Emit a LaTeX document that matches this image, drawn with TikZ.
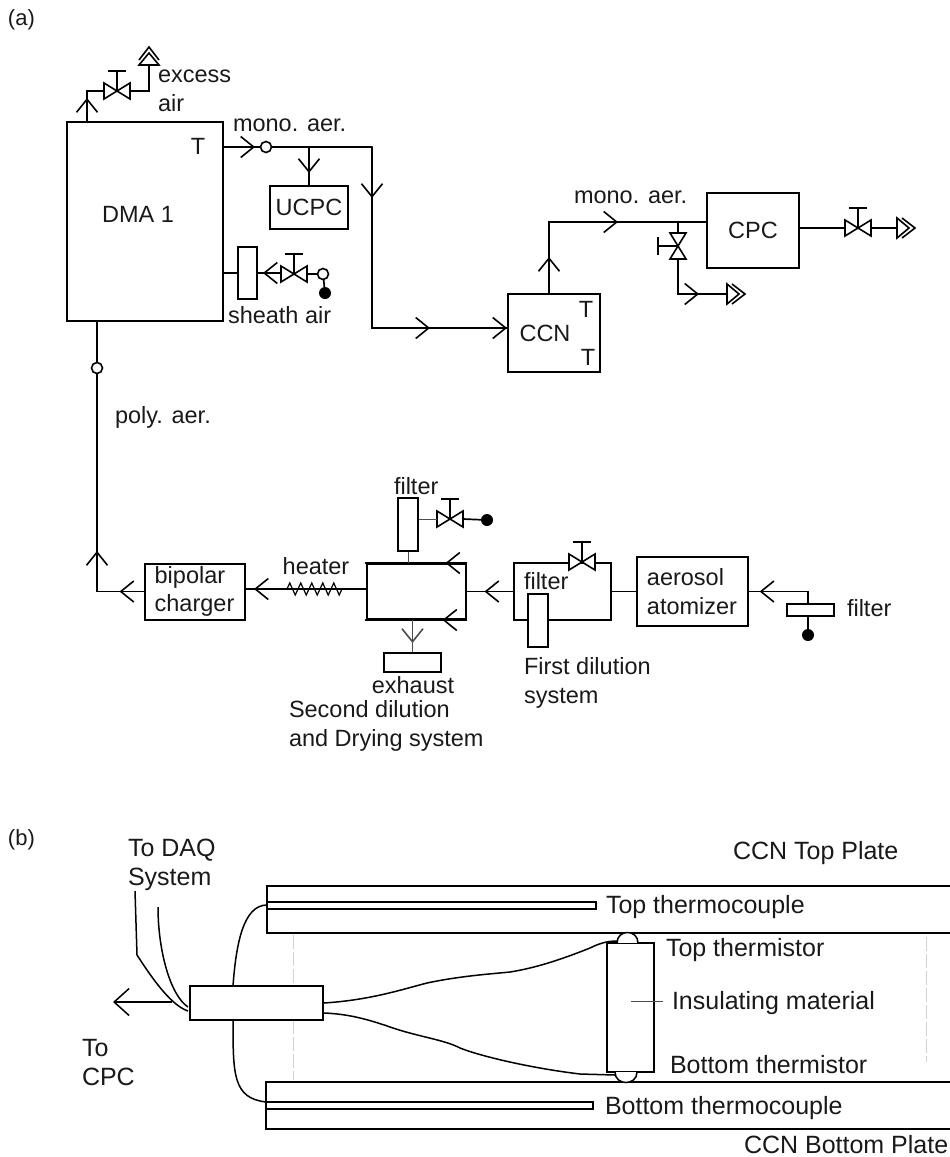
\documentclass[tikz,border=0pt]{standalone}
\usepackage{fontspec}
\setmainfont{Liberation Sans}
\usetikzlibrary{arrows.meta,positioning,decorations.markings,decorations.pathmorphing}

\begin{document}
\begin{tikzpicture}[
      x=1pt, y=-1pt,
      txta/.style={font=\fontsize{23.5}{28.5}\selectfont},
      tag/.style={txta, inner sep=0pt, outer sep=0pt, text=black!90, anchor=base west, align=left},
      ctag/.style={tag, anchor=base, align=center},
      tagb/.style={tag, font=\fontsize{25}{29}\selectfont},
      box/.style={draw, line width=2pt, inner sep=0pt, txta, text=black!90, align=left},
      filt/.style={draw, line width=1.7pt, fill=white, inner sep=0pt},
      flow/.style={line width=1.7pt, line cap=round},
      thin line/.style={line width=0.8pt, black!70},
      wire/.style={line width=1.5pt},
      chev/.style={postaction={decorate, decoration={markings,
          mark=at position #1 with {\arrow[line width=1.6pt]{Straight Barb[length=13pt,width=21pt]}}}}},
      ring/.style={draw, line width=1.6pt, circle, fill=white, inner sep=0pt, minimum size=11pt},
      dot/.style={circle, fill=black, inner sep=0pt, minimum size=12pt},
      valve/.pic={
        \draw[line width=1.6pt, fill=white] (-13,-8) -- (-13,8) -- (0,0) -- cycle;
        \draw[line width=1.6pt, fill=white] (13,-8) -- (13,8) -- (0,0) -- cycle;
        \draw[line width=1.6pt] (0,0) -- (0,-20) (-9,-20) -- (9,-20);
        \coordinate (-w) at (-13,0);
        \coordinate (-e) at (13,0);
      },
      vent/.pic={
        \draw[line width=1.6pt, fill=white] (0,-10) -- (0,10) -- (12,0) -- cycle;
        \draw[line width=1.6pt] (5,-10) -- (18,0) -- (5,10);
        \coordinate (-w) at (0,0);
      },
    ]
    \useasboundingbox (0,0) rectangle (950,1157);

    % panel (a)
    \node[tag, font=\fontsize{22}{26}\selectfont] (laba) at (8,25) {(a)};

    \node[box, minimum width=156pt, minimum height=199pt] (dma) at (145,221.5) {};
    \node[ctag] (dmatxt) at (138,222) {DMA 1};
    \node[ctag] (dmat) at (198,154) {T};

    % excess air line
    \coordinate (dmaup) at (87,122);
    \pic (vex) at (117,91) {valve};
    \pic[rotate=90] (ventx) at (149,65) {vent};
    \draw[flow, chev=24pt] (dmaup) |- (vex-w);
    \draw[flow] (vex-e) -| (ventx-w);
    \node[tag] (excess) at (158,111) {excess\\air};

    % mono. aer. to UCPC and CCN
    \node[ring] (mono) at (266,147) {};
    \node[tag] (monotxt) at (233,131) {mono. aer.};
    \node[box, minimum width=78pt, minimum height=43pt] (ucpc) at (309,207.5) {UCPC};
    \node[box, minimum width=92pt, minimum height=78pt] (ccn) at (554,333) {};
    \node[ctag] (ccntxt) at (545,341) {CCN};
    \node[ctag] (ccnt1) at (586,317) {T};
    \node[ctag] (ccnt2) at (588,365) {T};
    \coordinate (turn) at (372,147);
    \coordinate (ccnin) at (508,328);
    \draw[flow, chev=31pt] (dma.east |- mono) -- (mono);
    \draw[flow] (mono) -- (turn);
    \draw[flow, chev=26pt] (ucpc.north |- mono) -- (ucpc.north);
    \draw[flow, chev=51pt, chev=239pt, chev=316pt] (turn) |- (ccnin);

    % sheath air
    \node[filt, minimum width=19pt, minimum height=52pt] (fsh) at (247.5,273) {};
    \pic (vsh) at (294,274) {valve};
    \node[ring] (rsh) at (323,274) {};
    \node[dot] (dsh) at (325,293) {};
    \draw[flow] (dma.east |- fsh) -- (fsh);
    \draw[flow, chev=18pt] (vsh-w |- fsh) -- (fsh.east);
    \draw[flow] (vsh-e) -- (rsh);
    \draw[flow] (rsh) -- (dsh);
    \node[tag] (sheath) at (228,323) {sheath air};

    % CPC
    \node[box, minimum width=92pt, minimum height=75pt] (cpc) at (753,230.5) {CPC};
    \coordinate (ccnup) at (549,222);
    \node[tag] (mono2) at (574,203) {mono. aer.};
    \draw[flow, chev=36pt, chev=140pt] (ccn.north -| ccnup) |- (cpc.west |- ccnup);
    \pic[rotate=90] (vcp) at (678,246) {valve};
    \coordinate (bleed) at (678,222);
    \pic (vent1) at (727,294) {vent};
    \draw[flow] (bleed) -- (vcp-e);
    \draw[flow, chev=56pt] (vcp-w) |- (vent1-w);
    \pic (vout) at (858,228) {valve};
    \pic (vent2) at (897,228) {vent};
    \draw[flow] (cpc.east |- vout-w) -- (vout-w);
    \draw[flow] (vout-e) -- (vent2-w);

    % poly. aer. and lower chain
    \node[ring] (poly) at (97,368) {};
    \node[tag] (polytxt) at (115,423) {poly. aer.};
    \draw[flow] (poly) -- (poly |- dma.south);

    \node[box, minimum width=100pt, minimum height=56pt] (charger) at (194.5,591.5) {bipolar\\charger};
    \node[box, minimum width=99pt, minimum height=55pt, right=120pt of charger] (dry) {};
    \node[box, minimum width=97pt, minimum height=57pt, right=46pt of dry] (dil) {};
    \node[box, minimum width=111pt, minimum height=69pt, right=24pt of dil] (atom) {aerosol\\atomizer};
    \draw[flow, chev=24pt, chev=87pt] (charger.west) -| (poly);

    % heater
    \coordinate (htrout) at (366,589);
    \coordinate (htra) at (342,589);
    \coordinate (htrb) at (287,589);
    \draw[flow, chev=112pt] (htrout) -- (charger.east |- htrout);
    \draw[line width=1.2pt, decorate, decoration={zigzag, segment length=11pt, amplitude=6pt}] (htra) -- (htrb);
    \node[ctag] (htrtxt) at (316,574) {heater};

    % second dilution
    \draw[flow, chev=21pt] (dry.north east) -- (dry.north west);
    \draw[flow, chev=24pt] (dry.south east) -- (dry.south west);
    \node[filt, minimum width=20pt, minimum height=53pt] (fdry) at (408,524.5) {};
    \node[tag] (fdrytxt) at (394,494) {filter};
    \pic (vdry) at (450,519) {valve};
    \node[dot] (ddry) at (487,520) {};
    \draw[thin line] (fdry.south) -- (fdry.south |- dry.north);
    \draw[thin line] (fdry.east |- vdry-w) -- (vdry-w);
    \draw[flow] (vdry-e) -- (ddry);
    \node[filt, minimum width=57pt, minimum height=19pt] (exh) at (412.5,662.5) {};
    \draw[thin line, chev=23pt] (dry.south -| exh.north) -- (exh.north);
    \node[ctag] (exhtxt) at (413,693) {exhaust};
    \node[tag] (drytxt) at (289,746) {Second dilution\\and Drying system};

    % first dilution
    \draw[flow, chev=28pt] (dil.west) -- (dry.east);
    \draw[flow] (atom.west) -- (dil.east);
    \pic (vdil) at (582,562) {valve};
    \node[filt, minimum width=20pt, minimum height=53pt] (fdil) at (538,620.5) {};
    \node[tag] (fdiltxt) at (524,589) {filter};
    \node[tag] (diltxt) at (524,703) {First dilution\\system};

    % atomizer inlet
    \node[filt, minimum width=47pt, minimum height=12pt] (fatm) at (810.5,610) {};
    \node[dot] (datm) at (808,635) {};
    \draw[flow, chev=60pt] (datm |- fatm.north) |- (atom.east);
    \draw[flow] (datm |- fatm.south) -- (datm);
    \node[tag] (fatmtxt) at (847,616) {filter};

    % panel (b)
    \node[tag, font=\fontsize{22}{26}\selectfont] (labb) at (8,845) {(b)};
    \draw[gray!35, line width=0.6pt, dash pattern=on 14pt off 3pt] (293,935) -- (293,1080);
    \draw[gray!35, line width=0.6pt, dash pattern=on 14pt off 3pt] (926,937) -- (926,1062);

    % plates and thermocouples
    \draw[wire] (950,886) -- (267,886) -- (267,933) -- (950,933);
    \draw[wire] (267,902) -- (596,902) -- (596,909) -- (267,909);
    \draw[wire] (950,1082) -- (266,1082) -- (266,1129) -- (950,1129);
    \draw[wire] (266,1102) -- (593,1102) -- (593,1109) -- (266,1109);
    \node[tagb] (tplate) at (733,859) {CCN Top Plate};
    \node[tagb] (tcoup) at (606,913) {Top thermocouple};
    \node[tagb] (bcoup) at (605,1114) {Bottom thermocouple};
    \node[tagb] (bplate) at (744,1153) {CCN Bottom Plate};

    \node[filt, minimum width=133pt, minimum height=34pt] (junc) at (256.5,1003) {};
    \node[draw, wire, inner sep=0pt, minimum width=47pt, minimum height=129pt] (ins) at (630.5,1007.5) {};

    % thermistors
    \draw[wire, fill=white] (617,943) .. controls (617,929) and (638,929) .. (638,943);
    \draw[wire, fill=white] (615,1072) .. controls (615,1086) and (637,1086) .. (637,1072);
    \coordinate (ttip) at (617,941);
    \coordinate (btip) at (615,1075);
    \draw[wire] (junc.east) .. controls (370,1000) and (400,990) .. (427,983)
      .. controls (460,976) and (490,974) .. (510,972)
      .. controls (535,968) and (560,960) .. (590,948)
      .. controls (600,943) and (608,941) .. (ttip);
    \draw[wire] ([yshift=-10pt]junc.east) .. controls (350,1014) and (370,1020) .. (393,1028)
      .. controls (420,1037) and (445,1040) .. (460,1048)
      .. controls (480,1056) and (530,1068) .. (580,1074) -- (btip);

    % wires on the left
    \coordinate (jt) at (233,986);
    \coordinate (jb) at (233,1020);
    \draw[wire] (jt) .. controls (236,945) and (243,905) .. (267,905);
    \draw[wire] (jb) .. controls (233,1075) and (233,1098) .. (266,1102);
    \coordinate (daqa) at (135,891);
    \coordinate (daqb) at (158,907);
    \coordinate (jl) at (188,1011);
    \coordinate (jm) at (188,1007);
    \draw[wire] (daqa) -- (137,955) .. controls (150,975) and (170,1005) .. (jl);
    \draw[wire] (daqb) .. controls (158,950) and (170,995) .. (jm);
    \coordinate (cpcin) at (172,1002);
    \coordinate (cpcend) at (113,1002);
    \draw[wire, -{Straight Barb[length=15pt,width=27pt]}] (cpcin) -- (cpcend);
    \node[tagb] (daqtxt) at (128,885) {To DAQ\\System};
    \node[tagb] (cpctxt) at (82,1085) {To\\CPC};

    % labels at the insulator
    \coordinate (insm) at (631,1001);
    \draw[thin line] (insm) -- (663,1001);
    \node[tagb] (ttherm) at (666,956) {Top thermistor};
    \node[tagb] (insul) at (672,1009) {Insulating material};
    \node[tagb] (btherm) at (670,1073) {Bottom thermistor};
  \end{tikzpicture}
\end{document}
